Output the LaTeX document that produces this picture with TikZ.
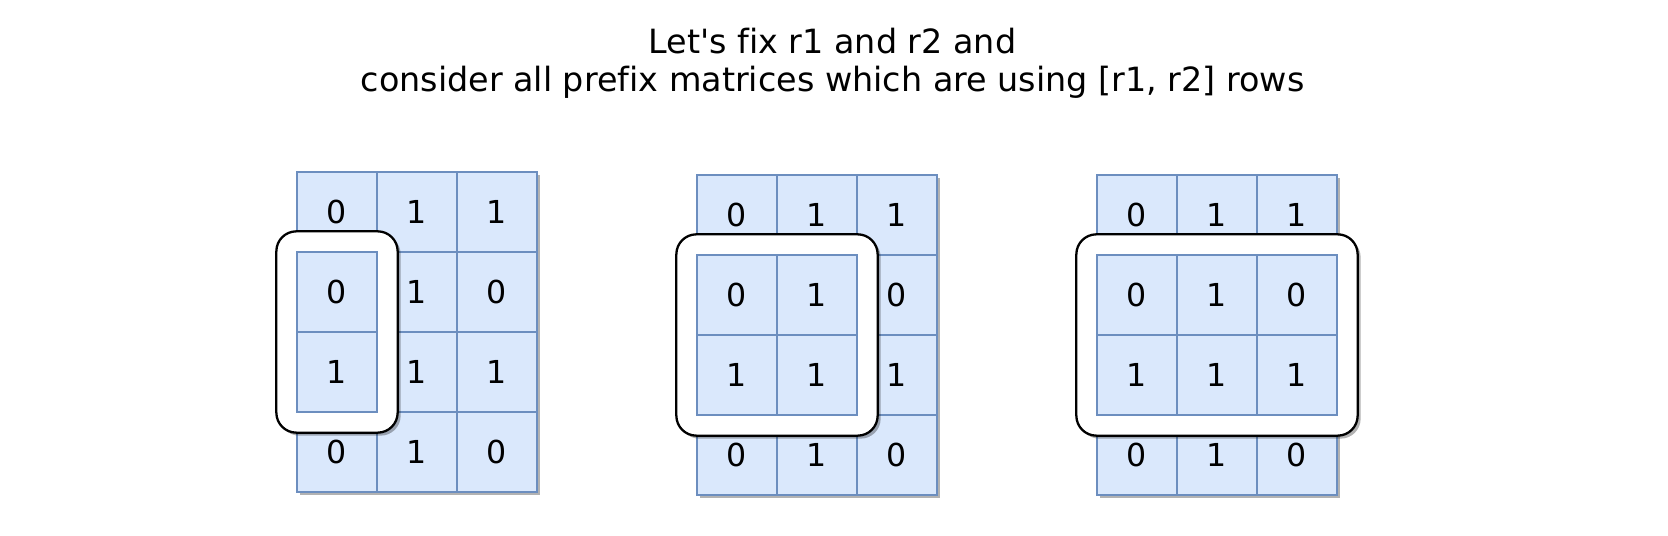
\documentclass[tikz,border=0pt]{standalone}
\usepackage{fontspec}
\setmainfont[Ligatures=NoCommon]{DejaVu Sans}
\usetikzlibrary{positioning,fit,shadows}
\definecolor{cellfill}{HTML}{DAE8FC}
\definecolor{celldraw}{HTML}{6C8EBF}
\tikzset{
    cell/.style={draw=celldraw, fill=cellfill, line width=0.75pt, minimum size=1.6cm, inner sep=0pt, font=\fontsize{18}{20}\selectfont},
    gridcell/.style={cell, drop shadow={shadow xshift=0.06cm, shadow yshift=-0.06cm, opacity=0.3, fill=black}},
    pickbox/.style={draw=black, fill=white, line width=1.3pt, rounded corners=0.4cm, inner sep=0.4cm, drop shadow={shadow xshift=0.06cm, shadow yshift=-0.06cm, opacity=0.3, fill=black}}
}
\begin{document}
\begin{tikzpicture}
                \def\sz{1.6};
                \fill[white] (0,0) rectangle (33.36,-10.72);
                \node[font=\fontsize{19}{21.5}\selectfont, align=center] (title) at (16.65,-1.27) {Let\textquotesingle s fix r1 and r2 and\\consider all prefix matrices which are using [r1, r2] rows};
                % the same matrix three times, the box takes 1, 2, 3 columns
                \foreach \m/\x/\y/\w in {1/5.94/-3.44/1, 2/13.94/-3.5/2, 3/21.94/-3.5/3}{
                    \foreach \v [count=\k from 0] in {0,1,1,0,1,0,1,1,1,0,1,0}{
                        \pgfmathtruncatemacro\row{div(\k,3)}
                        \pgfmathtruncatemacro\col{mod(\k,3)}
                        \node[gridcell] (m\m-\row-\col) at (\x + \col * \sz + \sz / 2, \y - \row * \sz - \sz / 2) {\v};
                    }
                    \pgfmathtruncatemacro\last{\w - 1}
                    \node[pickbox, fit=(m\m-1-0)(m\m-2-\last)] (box\m) {};
                    \foreach \row/\vals in {1/{0,1,0}, 2/{1,1,1}}{
                        \foreach \v [count=\col from 0] in \vals{
                            \ifnum\col<\w
                                \node[cell] (p\m-\row-\col) at (m\m-\row-\col) {\v};
                            \fi
                        }
                    }
                }
\end{tikzpicture}
\end{document}
